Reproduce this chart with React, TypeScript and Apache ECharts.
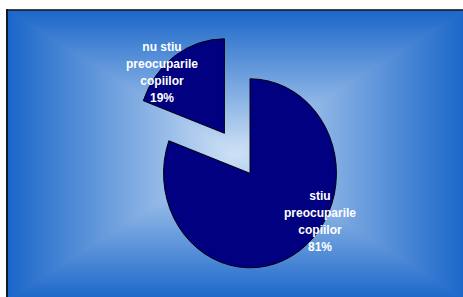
import React, { useEffect, useRef } from "react";
import * as echarts from "echarts";

// ---- data ----
const categories = ["stiu\npreocuparile\ncopiilor", "nu stiu\npreocuparile\ncopiilor"];
const values = [80.6, 19.4];

// ---- layout / style ----
const W = 463;
const H = 297;
const CX = 250;
const CY = 173.3;
const R = 94.5;
const SX = 0.915; // pie is drawn slightly narrower than tall
const EXPLODE = [0, 48.8];
const LABEL_POS: [number, number][] = [
  [320, 221],
  [162, 72.5],
];
const EDGE = "#1a66c9";
const LIGHT = "#cfe2f6";
const AREA = { x0: 7, y0: 10, x1: 466, y1: 300 };
const GC = { x: 235.5, y: 154 };

function grad(x0: number, y0: number, x1: number, y1: number) {
  return new echarts.graphic.LinearGradient(x0, y0, x1, y1, [
    { offset: 0, color: EDGE },
    { offset: 1, color: LIGHT },
  ]);
}

function tri(points: number[][], g: [number, number, number, number]) {
  return {
    type: "polygon",
    z: 0,
    shape: { points },
    style: { fill: grad(...g), stroke: grad(...g), lineWidth: 0.8 },
  };
}

export default function App() {
  const ref = useRef<HTMLDivElement>(null);
  useEffect(() => {
    if (!ref.current) return;
    const chart = echarts.init(ref.current, undefined, { renderer: "svg" });
    const total = values.reduce((a, b) => a + b, 0);
    const { x0, y0, x1, y1 } = AREA;
    const TL = [x0, y0], TR = [x1, y0], BL = [x0, y1], BR = [x1, y1], C = [GC.x, GC.y];
    chart.setOption({
      animation: false,
      tooltip: { show: false },
      graphic: [
        { type: "rect", z: 0, shape: { x: x0, y: y0, width: x1 - x0, height: y1 - y0 }, style: { fill: "#5a8ad6" } },
        tri([TL, TR, C], [0, 0, 0, 1]),
        tri([BL, BR, C], [0, 1, 0, 0]),
        tri([TL, BL, C], [0, 0, 1, 0]),
        tri([TR, BR, C], [1, 0, 0, 0]),
        { type: "line", z: 1, shape: { x1: 7, y1: 9, x2: 7, y2: 300 }, style: { stroke: "#0a1a2a", lineWidth: 2 } },
        { type: "line", z: 1, shape: { x1: 6, y1: 10, x2: 466, y2: 10 }, style: { stroke: "#1a1a1a", lineWidth: 1.5 } },
      ],
      series: [
        {
          type: "custom",
          coordinateSystem: "none",
          z: 2,
          data: values.map((v, i) => ({ value: v, name: categories[i] })),
          renderItem: (params: any, api: any) => {
            const i = params.dataIndex;
            const v = api.value(0);
            const before = values.slice(0, i).reduce((a, b) => a + b, 0);
            const start = -Math.PI / 2 + (before / total) * Math.PI * 2;
            const end = start + (v / total) * Math.PI * 2;
            const mid = (start + end) / 2;
            const d = EXPLODE[i];
            const x = CX + Math.cos(mid) * d * SX;
            const y = CY + Math.sin(mid) * d;
            const pct = Math.round((v / total) * 100);
            return {
              type: "group",
              children: [
                {
                  type: "group",
                  x,
                  y,
                  scaleX: SX,
                  scaleY: 1,
                  children: [
                    {
                      type: "sector",
                      shape: { cx: 0, cy: 0, r0: 0, r: R, startAngle: start, endAngle: end, clockwise: true },
                      style: { fill: "#000080", stroke: "#000000", lineWidth: 1 },
                    },
                  ],
                },
                {
                  type: "text",
                  x: LABEL_POS[i][0],
                  y: LABEL_POS[i][1],
                  z2: 10,
                  style: {
                    text: categories[i] + "\n" + pct + "%",
                    fill: "#ffffff",
                    fontSize: 12,
                    fontWeight: "bold",
                    fontFamily: '"Liberation Sans", Arial, sans-serif',
                    align: "center",
                    verticalAlign: "middle",
                    lineHeight: 17,
                  },
                },
              ],
            };
          },
        },
      ],
    });
    return () => chart.dispose();
  }, []);
  return <div ref={ref} style={{ position: "absolute", left: 0, top: 0, width: W, height: H }} />;
}
